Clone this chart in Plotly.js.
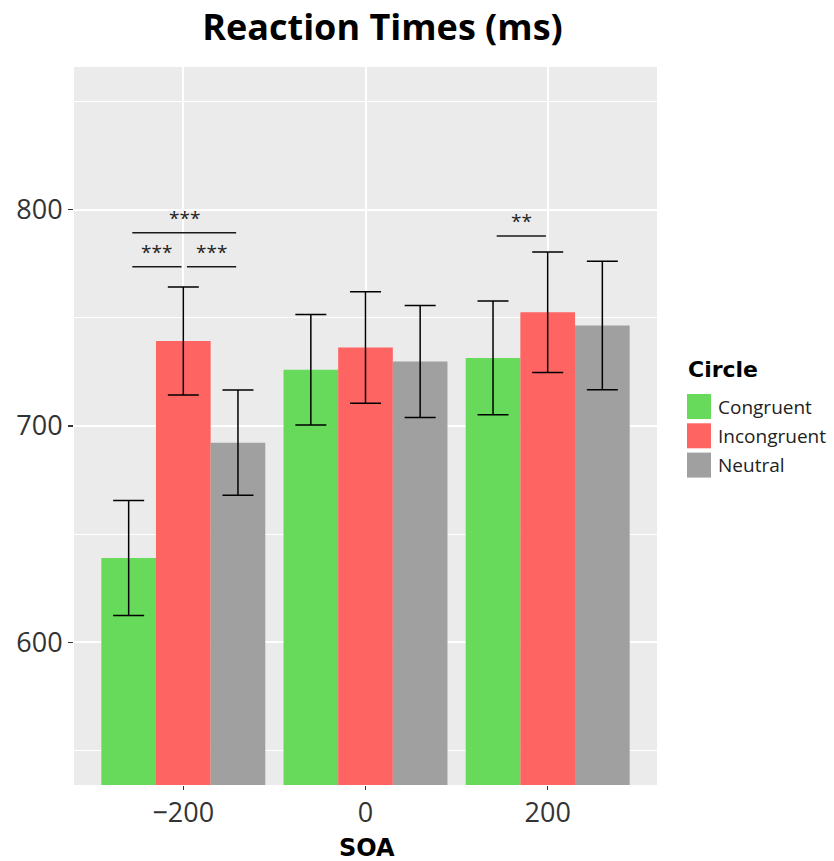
<!DOCTYPE html>
<html>
<head>
<meta charset="utf-8">
<script src="https://cdn.plot.ly/plotly-3.0.1.min.js"></script>
<style>html,body{margin:0;padding:0;background:#fff;}#chart{width:834px;height:861px;}</style>
</head>
<body>
<div id="chart"></div>
<script>
// ---- data ----
const categories = ['\u2212200', '0', '200'];
const seriesNames = ['Congruent', 'Incongruent', 'Neutral'];
const congruent = [639, 726, 731.5];
const congruentSE = [26.6, 25.5, 26.3];
const incongruent = [739.3, 736.3, 752.6];
const incongruentSE = [25.0, 25.8, 27.9];
const neutral = [692.3, 729.8, 746.5];
const neutralSE = [24.3, 25.9, 29.7];
// significance brackets: category index, from-series, to-series, level, label
const sigCategory = [0, 0, 0, 2];
const sigFrom = [0, 0, 1, 0];
const sigTo = [1, 2, 2, 1];
const sigLevel = [773.6, 789.4, 773.6, 787.8];
const sigLabel = ['***', '***', '***', '**'];

// ---- styling ----
const colors = ['#67DA5B', '#FE6462', '#A0A0A0'];
const W = 834, H = 861;
const M = {l: 74, r: 177, t: 67, b: 76};
const px2x = p => (p - M.l) / (W - M.l - M.r);
const px2y = p => (H - M.b - p) / (H - M.t - M.b);
const FONT = 'Open Sans, Liberation Sans, sans-serif';
const BFONT = 'DejaVu Sans, sans-serif';

const values = [congruent, incongruent, neutral];
const errs = [congruentSE, incongruentSE, neutralSE];
const nS = values.length;
const barW = 0.9 / nS;
const offset = i => (i - (nS - 1) / 2) * barW;

const traces = values.map((v, i) => ({
  type: 'bar',
  x: categories,
  y: v,
  name: seriesNames[i],
  marker: {color: colors[i], line: {width: 0}},
  error_y: {type: 'data', array: errs[i], visible: true, color: '#000', thickness: 1.5, width: 15.5},
  showlegend: false,
  hoverinfo: 'x+y+name'
}));

const shapes = [];
const annotations = [];
sigLevel.forEach((lvl, k) => {
  const x0 = sigCategory[k] + offset(sigFrom[k]) + 0.02;
  const x1 = sigCategory[k] + offset(sigTo[k]) - 0.01;
  shapes.push({type: 'line', xref: 'x', yref: 'y', x0: x0, x1: x1, y0: lvl, y1: lvl,
    line: {color: '#1a1a1a', width: 1.5}});
  annotations.push({xref: 'x', yref: 'y', x: (x0 + x1) / 2, y: lvl, text: sigLabel[k],
    showarrow: false, yanchor: 'bottom', yshift: 0,
    font: {family: FONT, size: 19, color: '#222'}});
});

// custom legend
annotations.push({xref: 'paper', yref: 'paper', x: px2x(686), y: px2y(370), xanchor: 'left', yanchor: 'middle',
  text: '<b>Circle</b>', showarrow: false, font: {family: BFONT, size: 22, color: '#000'}});
seriesNames.forEach((n, i) => {
  const top = 394 + i * 29.3;
  shapes.push({type: 'rect', xref: 'paper', yref: 'paper', x0: px2x(687), x1: px2x(711),
    y0: px2y(top + 25), y1: px2y(top), fillcolor: colors[i], line: {width: 0}});
  annotations.push({xref: 'paper', yref: 'paper', x: px2x(716), y: px2y(top + 12.5), xanchor: 'left', yanchor: 'middle',
    text: n, showarrow: false, font: {family: FONT, size: 19, color: '#222'}});
});

// x axis title
annotations.push({xref: 'paper', yref: 'paper', x: px2x(366.5), y: px2y(848), xanchor: 'center', yanchor: 'middle',
  text: '<b>SOA</b>', showarrow: false, font: {family: BFONT, size: 24, color: '#000'}});

const layout = {
  width: W, height: H,
  margin: M,
  paper_bgcolor: '#fff',
  plot_bgcolor: '#EBEBEB',
  barmode: 'group',
  bargap: 0.1,
  bargroupgap: 0,
  showlegend: false,
  title: {text: '<b>Reaction Times (ms)</b>', x: px2x(382.5), xref: 'paper', xanchor: 'center',
    y: 1 - 27.5 / H, yref: 'container', yanchor: 'middle',
    font: {family: FONT, size: 36, color: '#000'}},
  xaxis: {
    type: 'category', range: [-0.6, 2.6],
    showgrid: true, gridcolor: '#fff', gridwidth: 2,
    ticks: 'outside', ticklen: 4, tickwidth: 1.3, tickcolor: '#333',
    tickfont: {family: FONT, size: 27, color: '#333'},
    showline: false, zeroline: false
  },
  yaxis: {
    range: [534, 866], tick0: 600, dtick: 100,
    showgrid: true, gridcolor: '#fff', gridwidth: 2,
    minor: {dtick: 50, tick0: 550, showgrid: true, gridcolor: '#fff', gridwidth: 1, ticks: ''},
    ticks: 'outside', ticklen: 5, tickwidth: 1.3, tickcolor: '#333',
    tickfont: {family: FONT, size: 27, color: '#333'},
    showline: false, zeroline: false
  },
  shapes: shapes,
  annotations: annotations
};

Plotly.newPlot('chart', traces, layout, {displayModeBar: false, staticPlot: true});
</script>
</body>
</html>
